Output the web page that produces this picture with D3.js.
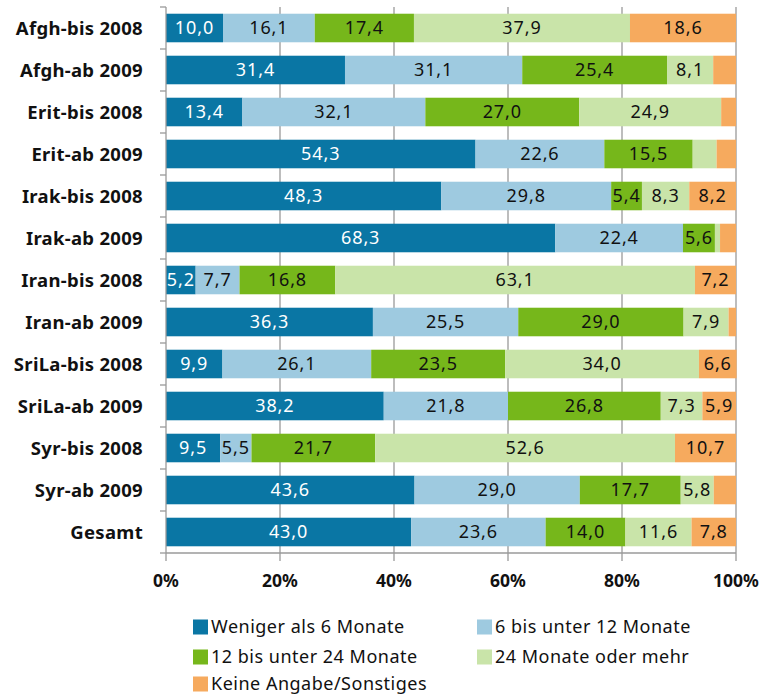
<!DOCTYPE html>
<html><head><meta charset="utf-8">
<script src="https://cdn.jsdelivr.net/npm/d3@7"></script>
<style>
body{margin:0;background:#fff;}
svg text{font-family:"Noto Sans","Open Sans",sans-serif;}
</style></head>
<body><svg id="c" width="763" height="697"></svg>
<script>
const categories = ["Afgh-bis 2008","Afgh-ab 2009","Erit-bis 2008","Erit-ab 2009","Irak-bis 2008","Irak-ab 2009","Iran-bis 2008","Iran-ab 2009","SriLa-bis 2008","SriLa-ab 2009","Syr-bis 2008","Syr-ab 2009","Gesamt"];
const seriesNames = ["Weniger als 6 Monate","6 bis unter 12 Monate","12 bis unter 24 Monate","24 Monate oder mehr","Keine Angabe/Sonstiges"];
const s1 = [10.0,31.4,13.4,54.3,48.3,68.3,5.2,36.3,9.9,38.2,9.5,43.6,43.0];
const s2 = [16.1,31.1,32.1,22.6,29.8,22.4,7.7,25.5,26.1,21.8,5.5,29.0,23.6];
const s3 = [17.4,25.4,27.0,15.5,5.4,5.6,16.8,29.0,23.5,26.8,21.7,17.7,14.0];
const s4 = [37.9,8.1,24.9,4.2,8.3,0.9,63.1,7.9,34.0,7.3,52.6,5.8,11.6];
const s5 = [18.6,4.0,2.6,3.4,8.2,2.8,7.2,1.3,6.6,5.9,10.7,3.9,7.8];
const ticks = [0,20,40,60,80,100];
const colors = ["#0a76a4","#9ecae0","#76b71b","#c9e4a9","#f6aa5e"];
const textColors = ["#fff","#111","#111","#111","#111"];

const series = [s1,s2,s3,s4,s5];
const rows = categories.map((c,i)=>{const o={cat:c}; series.forEach((s,k)=>o["k"+k]=s[i]); return o;});
const keys = series.map((s,k)=>"k"+k);
const stacked = d3.stack().keys(keys)(rows);

const svg = d3.select("#c");
const x = d3.scaleLinear().domain([0,100]).range([166,736]);
const y = d3.scaleBand().domain(categories).range([7,553]).paddingInner(0.32).paddingOuter(0.16);
const gridColor = "#9a9a9a";

// gridlines
svg.append("g").selectAll("line").data(ticks.slice(1)).join("line")
  .attr("x1",d=>x(d)).attr("x2",d=>x(d)).attr("y1",7).attr("y2",553)
  .attr("stroke",gridColor).attr("stroke-width",1.3);

// bars
const g = svg.append("g");
stacked.forEach((layer,k)=>{
  g.append("g").selectAll("rect").data(layer).join("rect")
    .attr("x",d=>x(d[0])).attr("width",d=>x(d[1])-x(d[0]))
    .attr("y",d=>y(d.data.cat)).attr("height",y.bandwidth())
    .attr("fill",colors[k]);
  g.append("g").selectAll("text").data(layer.filter(d=>d[1]-d[0]>=5)).join("text")
    .attr("x",d=>(x(d[0])+x(d[1]))/2).attr("y",d=>y(d.data.cat)+y.bandwidth()/2)
    .attr("dy","0.36em").attr("text-anchor","middle")
    .attr("font-size",18).attr("letter-spacing","0.9px").attr("fill",textColors[k])
    .text(d=>d3.format(".1f")(d[1]-d[0]).replace(".",","));
});

// left axis
const band = y.step();
const yAxis = svg.append("g");
yAxis.append("line").attr("x1",166).attr("x2",166).attr("y1",7).attr("y2",553).attr("stroke",gridColor).attr("stroke-width",1.3);
yAxis.selectAll("line.t").data(d3.range(categories.length+1)).join("line").attr("class","t")
  .attr("x1",160).attr("x2",166).attr("y1",i=>7+i*band).attr("y2",i=>7+i*band)
  .attr("stroke",gridColor).attr("stroke-width",1.3);
yAxis.selectAll("text").data(categories).join("text")
  .attr("x",143).attr("y",d=>y(d)+y.bandwidth()/2).attr("dy","0.36em")
  .attr("text-anchor","end").attr("font-weight","bold").attr("font-size",18.5).attr("letter-spacing","0.3px").attr("fill","#111")
  .text(d=>d);

// bottom axis
const xAxis = svg.append("g");
xAxis.append("line").attr("x1",166).attr("x2",736).attr("y1",553).attr("y2",553).attr("stroke",gridColor).attr("stroke-width",1.3);
xAxis.selectAll("line.t").data(ticks).join("line").attr("class","t")
  .attr("x1",d=>x(d)).attr("x2",d=>x(d)).attr("y1",553).attr("y2",561)
  .attr("stroke",gridColor).attr("stroke-width",1.3);
xAxis.selectAll("text").data(ticks).join("text")
  .attr("x",d=>x(d)).attr("y",581).attr("dy","0.36em").attr("text-anchor","middle")
  .attr("font-weight","bold").attr("font-size",17.5).attr("fill","#111")
  .text(d=>d+"%");

// legend
const legPos = [[193,627],[477,627],[193,657],[477,657],[193,684]];
const leg = svg.append("g");
seriesNames.forEach((n,k)=>{
  const [lx,ly] = legPos[k];
  leg.append("rect").attr("x",lx).attr("y",ly-7.5).attr("width",15).attr("height",15).attr("fill",colors[k]);
  leg.append("text").attr("x",lx+18).attr("y",ly).attr("dy","0.36em").attr("font-size",18).attr("letter-spacing","0.5px").attr("fill","#111").text(n);
});
</script></body></html>
